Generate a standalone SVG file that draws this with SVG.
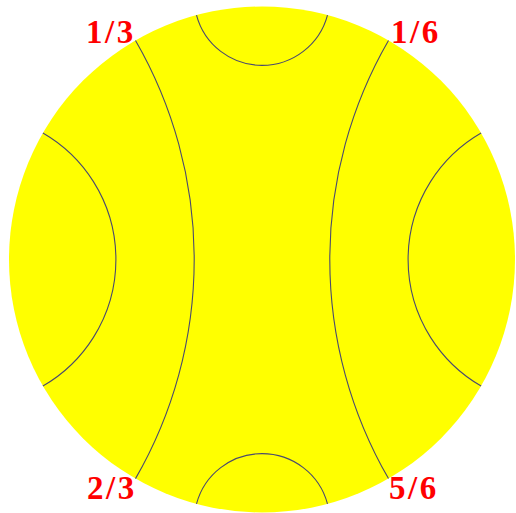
<svg xmlns="http://www.w3.org/2000/svg" width="516" height="513" viewBox="0 0 516 513">
<style>
.geo{fill:none;stroke:#4a4a6e;stroke-width:1.1}
.lbl{font-family:"Liberation Serif","Times New Roman",serif;font-weight:bold;font-size:33px;letter-spacing:2.5px;fill:#ff0000}
</style>
<rect width="516" height="513" fill="#ffffff"/>
<g id="disk">
<circle cx="262" cy="259.5" r="253" fill="#ffff00"/>
</g>
<g id="connectors">
<path class="geo" d="M196.5,15.1 A67.8,67.8 0 0 0 327.5,15.1"/>
<path class="geo" d="M196.5,503.9 A67.8,67.8 0 0 1 327.5,503.9"/>
<path class="geo" d="M42.9,133 A146.1,146.1 0 0 1 42.9,386"/>
<path class="geo" d="M481.1,133 A146.1,146.1 0 0 0 481.1,386"/>
<path class="geo" d="M135.5,40.4 A438.2,438.2 0 0 1 135.5,478.6"/>
<path class="geo" d="M388.5,40.4 A438.2,438.2 0 0 0 388.5,478.6"/>
</g>
<g id="labels">
<text class="lbl" x="86" y="42.5">1/3</text>
<text class="lbl" x="391" y="42.5">1/6</text>
<text class="lbl" x="87" y="499">2/3</text>
<text class="lbl" x="389" y="499">5/6</text>
</g>
</svg>
